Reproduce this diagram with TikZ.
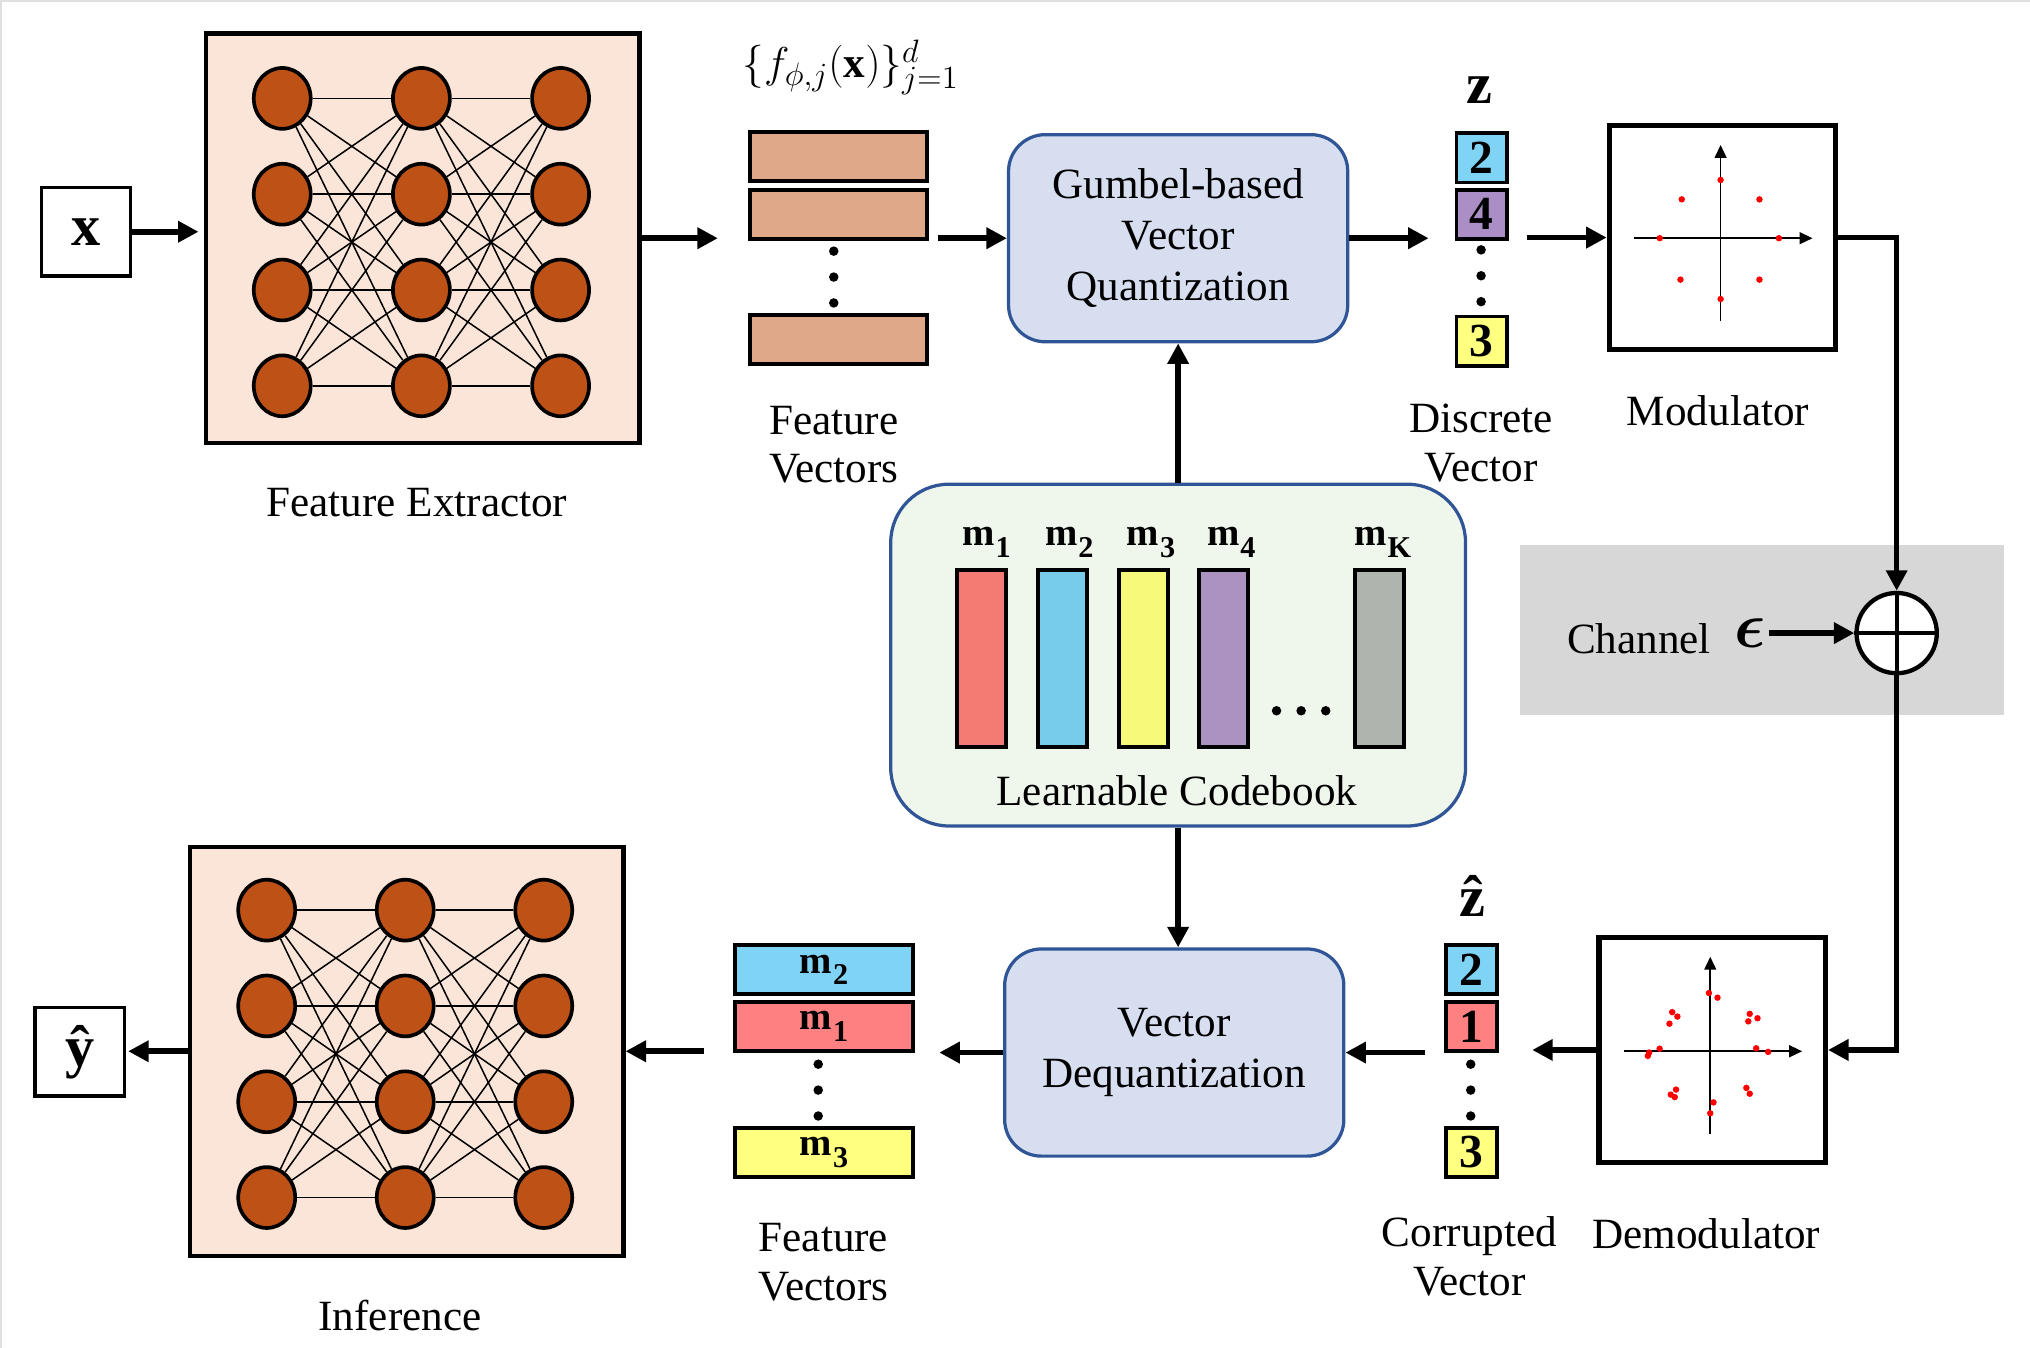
\RequirePackage{fix-cm}
\documentclass[tikz,border=0pt]{standalone}
\usepackage{fontspec}
\setmainfont{Liberation Serif}
\usepackage{bm}
\usetikzlibrary{arrows.meta,shapes.geometric}
\definecolor{peach}{HTML}{FAE5D8}
\definecolor{neuronc}{HTML}{BE5116}
\definecolor{fvc}{HTML}{DFA888}
\definecolor{cyanc}{HTML}{7FD3F5}
\definecolor{purpc}{HTML}{AB8EC5}
\definecolor{yellc}{HTML}{FFFF80}
\definecolor{salmc}{HTML}{FF8080}
\definecolor{cbred}{HTML}{F47B73}
\definecolor{cbblue}{HTML}{78CCEB}
\definecolor{cbyell}{HTML}{F7F97A}
\definecolor{cbpurp}{HTML}{AC92C1}
\definecolor{cbgray}{HTML}{B0B4AE}
\definecolor{qfill}{HTML}{D6DEF0}
\definecolor{qedge}{HTML}{2F5597}
\definecolor{cbfill}{HTML}{EFF6EB}
\definecolor{chgray}{HTML}{D7D7D7}
\newcommand\nnetwork[4]{% prefix, x col1, y row1, column spacing
  \foreach \c in {1,2,3}{\foreach \r in {1,2,3,4}{
     \node[neuron] (#1-\c-\r) at ({#2+(\c-1)*#4},{#3+(\r-1)*74}) {};}}
  \foreach \c/\d in {1/2,2/3}{\foreach \r in {1,...,4}{\foreach \s in {1,...,4}{
     \draw[conn] (#1-\c-\r) -- (#1-\d-\s);}}}
}
\newcommand\msub[1]{$\mathbf{m}$\kern0.4pt\raisebox{-0.3em}{\fontsize{14}{14}\selectfont$\mathbf{#1}$}}
\newcommand\scr[1]{\hbox{\fontsize{15}{15}\selectfont$#1$}}
\begin{document}
\begin{tikzpicture}[x=0.6pt,y=-0.6pt,
  lbl/.style={font=\fontsize{20}{22.5}\selectfont, align=center, inner sep=0},
  neuron/.style={ellipse, draw=black, line width=1.7pt, fill=neuronc, minimum width=26.4pt, minimum height=28.2pt, inner sep=0pt},
  conn/.style={line width=0.7pt},
  arr/.style={line width=2.6pt, -{Triangle[length=9.5pt,width=9.5pt]}},
  axis/.style={line width=0.8pt, -{Triangle[length=6pt,width=5.5pt]}},
  netbox/.style={draw, line width=2pt, fill=peach, minimum width=201pt, minimum height=189.6pt, inner sep=0},
  vec/.style={draw, line width=1.8pt, minimum width=82.2pt, minimum height=22.8pt, inner sep=0, font=\fontsize{18}{18}\selectfont},
  dig/.style={draw, line width=1.8pt, minimum width=23.4pt, minimum height=22.8pt, inner sep=0, font=\fontsize{22}{22}\selectfont\bfseries},
  blk/.style={draw=qedge, line width=1.5pt, fill=qfill, rounded corners=17pt, minimum width=157.2pt, minimum height=96pt, align=center, font=\fontsize{20}{23.5}\selectfont},
  cbar/.style={draw, line width=1.8pt, minimum width=22.8pt, minimum height=82.2pt, inner sep=0},
  sqbox/.style={draw, line width=2.4pt, fill=white, minimum width=105pt, minimum height=104pt, inner sep=0},
  iobox/.style={draw, line width=1.6pt, fill=white, minimum width=41.4pt, minimum height=41pt, inner sep=0, font=\fontsize{27}{27}\selectfont\bfseries},
  dot/.style={circle, fill=black, inner sep=0, minimum size=4.4pt},
  mlbl/.style={font=\fontsize{18}{18}\selectfont, inner sep=0},
]
\useasboundingbox (0,0) rectangle (1568,1041);
\draw[black!12, line width=1pt] (0,1) -- (1568,1) (1,0) -- (1,1041);

% ---------- top row ----------
\node[iobox] (xbox) at (66.5,179) {x};
\node[netbox] (fe) at (326.5,184) {};
\nnetwork{fen}{218}{76}{107.5}
\node[lbl] (felbl) at (322,388) {Feature Extractor};

\node[lbl] (fset) at (657,52) {$\{f_{\scr{\phi{,}j}}(\mathbf{x})\}^{\scr{d}}_{\scr{j{=}1}}$};
\node[vec, fill=fvc] (fv1) at (647.5,121) {};
\node[vec, fill=fvc] (fv2) at (647.5,165.5) {};
\node[vec, fill=fvc] (fv3) at (647.5,262) {};
\node[dot] (fvd1) at (644,194) {};
\node[dot] (fvd2) at (644,214) {};
\node[dot] (fvd3) at (644,234) {};
\node[lbl] (fvlbl) at (644,343.5) {Feature\\Vectors};

\node[blk] (gq) at (910,184) {Gumbel-based\\Vector\\Quantization};

\node[font=\fontsize{27}{27}\selectfont\bfseries, inner sep=0] (zlbl) at (1143,70) {z};
\node[dig, fill=cyanc] (z1) at (1144.5,122) {2};
\node[dig, fill=purpc] (z2) at (1144.5,165.5) {4};
\node[dig, fill=yellc] (z3) at (1144.5,263.5) {3};
\node[dot] (zd1) at (1144,193) {};
\node[dot] (zd2) at (1144,213) {};
\node[dot] (zd3) at (1144,233) {};
\node[lbl] (zvl) at (1144,342) {Discrete\\Vector};

\node[sqbox] (mod) at (1330.5,183.5) {};
\draw[axis] (1262,184) -- (1400,184);
\draw[axis] (1329,248) -- (1329,112);
\foreach \dx/\dy in {0/-45,-30/-30,30/-30,-47/0,45/0,-31/32,30/32,0/47}
  \fill[red] (1329+\dx,184+\dy) circle (1.5pt);
\node[lbl] (modlbl) at (1327,317) {Modulator};

% ---------- channel ----------
\fill[chgray] (1174,421) rectangle (1548,552);
\node[lbl] (chlbl) at (1266,493) {Channel};
\node[font=\fontsize{30}{30}\selectfont, inner sep=1pt] (eps) at (1352,489) {$\bm{\epsilon}$};
\node[circle, draw, line width=2pt, fill=white, minimum size=37.2pt, inner sep=0] (sum) at (1465,489) {};
\draw[line width=2pt] (sum.north) -- (sum.south) (sum.west) -- (sum.east);

% ---------- codebook ----------
\node[draw=qedge, line width=1.5pt, fill=cbfill, rounded corners=27pt, minimum width=266.4pt, minimum height=158.4pt] (cb) at (910,506) {};
\node[cbar, fill=cbred] (m1) at (758,508.5) {};
\node[cbar, fill=cbblue] (m2) at (820.5,508.5) {};
\node[cbar, fill=cbyell] (m3) at (883,508.5) {};
\node[cbar, fill=cbpurp] (m4) at (945,508.5) {};
\node[cbar, fill=cbgray] (mK) at (1065.5,508.5) {};
\node[mlbl] (l1) at (762,419) {\msub{1}};
\node[mlbl] (l2) at (826,419) {\msub{2}};
\node[mlbl] (l3) at (889,419) {\msub{3}};
\node[mlbl] (l4) at (951,419) {\msub{4}};
\node[mlbl] (lK) at (1068,419) {\msub{K}};
\node[dot] (cd1) at (986,549) {};
\node[dot] (cd2) at (1005,549) {};
\node[dot] (cd3) at (1024,549) {};
\node[lbl] (cblbl) at (909,611) {Learnable Codebook};

% ---------- bottom row ----------
\node[sqbox] (dem) at (1322.5,811) {};
\draw[axis] (1254,812) -- (1392,812);
\draw[axis] (1321,876) -- (1321,739);
\foreach \dx/\dy in {-1/-45,5.6/-41.4,-29.4/-30.2,-25.4/-26.8,-31.5/-21.3,30.5/-28.9,36.5/-25.5,29.4/-23.1,-47.2/1,-39.1/-2,-48.2/3.6,35.5/-2.3,44.7/0.5,-26.4/29.6,-30.5/33.5,-27.4/35.4,27.9/28.3,30.5/32.8,2.5/39.5,0/47.9}
  \fill[red] (1321+\dx,812+\dy) circle (1.5pt);
\node[lbl] (demlbl) at (1318,953) {Demodulator};

\node[font=\fontsize{27}{27}\selectfont\bfseries, inner sep=0] (zhat) at (1137,692) {\^{z}};
\node[dig, fill=cyanc] (cv1) at (1136.5,749) {2};
\node[dig, fill=salmc] (cv2) at (1136.5,793) {1};
\node[dig, fill=yellc] (cv3) at (1136.5,890) {3};
\node[dot] (cvd1) at (1136,822) {};
\node[dot] (cvd2) at (1136,842) {};
\node[dot] (cvd3) at (1136,862) {};
\node[lbl] (cvl) at (1135,970.5) {Corrupted\\Vector};

\node[blk] (vd) at (907,813) {Vector\\Dequantization};

\node[vec, fill=cyanc] (bf1) at (636.5,749) {\msub{2}};
\node[vec, fill=salmc] (bf2) at (636.5,793) {\msub{1}};
\node[vec, fill=yellc] (bf3) at (636.5,890) {\msub{3}};
\node[dot] (bfd1) at (632,822) {};
\node[dot] (bfd2) at (632,842) {};
\node[dot] (bfd3) at (632,862) {};
\node[lbl] (bflbl) at (636,975) {Feature\\Vectors};

\node[netbox] (inf) at (314,812) {};
\nnetwork{inn}{206}{703}{107}
\node[lbl] (inflbl) at (309,1016) {Inference};
\node[iobox] (yhat) at (61.5,812.5) {\^{y}};

% ---------- connectors ----------
\draw[arr, shorten >=2.4pt] (xbox.east) -- (xbox.east -| fe.west);
\draw[arr, shorten >=13.8pt] (fe.east) -- (fe.east -| fv1.west);
\draw[arr, shorten <=4.2pt] (fv2.east |- gq.west) -- (gq.west);
\draw[arr, shorten >=12pt] (gq.east) -- (gq.east -| z1.west);
\draw[arr, shorten <=8.4pt] (z2.east |- mod.west) -- (mod.west);
\draw[arr] (mod.east) -| (sum.north);
\draw[arr] (eps.east) -- (sum.west);
\draw[arr] (sum.south) |- (dem.east);
\draw[arr, shorten >=15.6pt] (dem.west) -- (dem.west -| cv1.east);
\draw[arr, shorten <=9pt] (cv2.west |- vd.east) -- (vd.east);
\draw[arr, shorten >=11.4pt] (vd.west) -- (vd.west -| bf1.east);
\draw[arr, shorten <=13.8pt] (bf2.west |- inf.east) -- (inf.east);
\draw[arr, shorten >=1pt] (inf.west) -- (inf.west -| yhat.east);
\draw[arr] (cb.north) -- (gq.south);
\draw[arr] (cb.south) -- (cb.south |- vd.north);
\end{tikzpicture}
\end{document}
